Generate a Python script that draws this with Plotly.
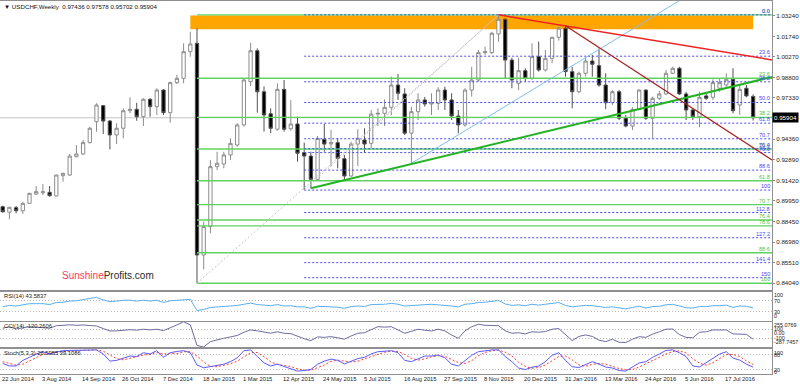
import pandas as pd
import plotly.graph_objects as go
from plotly.subplots import make_subplots

# ---------------- data (weekly USDCHF) ----------------
DATES = pd.date_range("2014-06-22", periods=113, freq="7D")

OPEN = [0.8953, 0.8913, 0.8946, 0.8924, 0.8977, 0.9044, 0.9053, 0.9056, 0.9030, 0.9175,
        0.9180, 0.9311, 0.9331, 0.9412, 0.9562, 0.9677, 0.9567, 0.9467, 0.9515, 0.9641,
        0.9651, 0.9598, 0.9723, 0.9670, 0.9789, 0.9627, 0.9842, 0.9873, 1.0064, 1.0124,
        0.8607, 0.8810, 0.9240, 0.9259, 0.9324, 0.9395, 0.9539, 0.9849, 1.0071, 0.9777,
        0.9619, 0.9508, 0.9794, 0.9512, 0.9546, 0.9340, 0.9316, 0.9149, 0.9436, 0.9403,
        0.9412, 0.9297, 0.9173, 0.9402, 0.9431, 0.9407, 0.9617, 0.9622, 0.9665, 0.9825,
        0.9761, 0.9480, 0.9634, 0.9718, 0.9689, 0.9694, 0.9789, 0.9718, 0.9603, 0.9539,
        0.9789, 0.9861, 1.0057, 1.0057, 1.0191, 1.0296, 1.0004, 0.9837, 0.9928, 0.9873,
        1.0028, 0.9933, 1.0016, 1.0167, 1.0232, 0.9921, 0.9777, 0.9909, 0.9997, 0.9964,
        0.9825, 0.9698, 0.9777, 0.9587, 0.9531, 0.9651, 0.9789, 0.9587, 0.9730, 0.9761,
        0.9909, 0.9945, 0.9761, 0.9646, 0.9598, 0.9747, 0.9737, 0.9802, 0.9825, 0.9866,
        0.9682, 0.9802, 0.97436]
HIGH = [0.8960, 0.8951, 0.8958, 0.8989, 0.9052, 0.9101, 0.9116, 0.9101, 0.9182, 0.9197,
        0.9331, 0.9395, 0.9431, 0.9526, 0.9694, 0.9682, 0.9574, 0.9551, 0.9658, 0.9737,
        0.9698, 0.9730, 0.9730, 0.9802, 0.9795, 0.9849, 0.9897, 1.0124, 1.0207, 1.0232,
        0.8846, 0.9288, 0.9347, 0.9347, 0.9443, 0.9551, 0.9873, 1.0128, 1.0088, 0.9815,
        0.9658, 0.9837, 0.9861, 0.9718, 0.9598, 0.9412, 0.9347, 0.9460, 0.9546, 0.9503,
        0.9443, 0.9324, 0.9419, 0.9508, 0.9515, 0.9646, 0.9658, 0.9723, 0.9885, 0.9904,
        0.9802, 0.9670, 0.9766, 0.9740, 0.9766, 0.9809, 0.9813, 0.9766, 0.9646, 0.9802,
        0.9956, 1.0076, 1.0100, 1.0207, 1.0328, 1.0303, 1.0021, 1.0021, 0.9945, 1.0124,
        1.0136, 1.0076, 1.0171, 1.0243, 1.0250, 0.9956, 0.9921, 1.0021, 1.0041, 1.0088,
        0.9909, 0.9789, 0.9789, 0.9610, 0.9665, 0.9794, 0.9794, 0.9742, 0.9784, 0.9933,
        0.9956, 0.9956, 0.9777, 0.9658, 0.9777, 0.9761, 0.9866, 0.9873, 0.9909, 0.9945,
        0.9825, 0.9825, 0.97578]
LOW = [0.8910, 0.8863, 0.8906, 0.8901, 0.8975, 0.9037, 0.9037, 0.9025, 0.9028, 0.9132,
       0.9175, 0.9307, 0.9323, 0.9407, 0.9491, 0.9474, 0.9364, 0.9402, 0.9443, 0.9622,
       0.9569, 0.9531, 0.9598, 0.9610, 0.9610, 0.9555, 0.9832, 0.9837, 1.0028, 0.8404,
       0.8504, 0.8762, 0.9216, 0.9228, 0.9288, 0.9383, 0.9526, 0.9818, 0.9627, 0.9491,
       0.9480, 0.9498, 0.9491, 0.9498, 0.9276, 0.9073, 0.9085, 0.9144, 0.9347, 0.9240,
       0.9228, 0.9144, 0.9168, 0.9245, 0.9340, 0.9372, 0.9531, 0.9531, 0.9610, 0.9718,
       0.9467, 0.9264, 0.9574, 0.9670, 0.9610, 0.9646, 0.9646, 0.9574, 0.9479, 0.9526,
       0.9742, 0.9849, 1.0041, 1.0047, 1.0135, 0.9873, 0.9802, 0.9789, 0.9849, 0.9861,
       0.9921, 0.9921, 0.9981, 1.0143, 0.9885, 0.9658, 0.9766, 0.9885, 0.9885, 0.9813,
       0.9652, 0.9682, 0.9574, 0.9522, 0.9503, 0.9646, 0.9574, 0.9443, 0.9718, 0.9754,
       0.9904, 0.9754, 0.9574, 0.9574, 0.9522, 0.9718, 0.9718, 0.9777, 0.9813, 0.9622,
       0.9610, 0.9737, 0.95702]
CLOSE = [0.8917, 0.8949, 0.8924, 0.8977, 0.9049, 0.9061, 0.9060, 0.9032, 0.9180, 0.9192,
         0.9316, 0.9331, 0.9412, 0.9515, 0.9682, 0.9567, 0.9467, 0.9515, 0.9641, 0.9651,
         0.9598, 0.9723, 0.9670, 0.9789, 0.9627, 0.9842, 0.9873, 1.0064, 1.0119, 0.8607,
         0.8810, 0.9240, 0.9264, 0.9324, 0.9407, 0.9539, 0.9861, 1.0071, 0.9777, 0.9610,
         0.9515, 0.9794, 0.9508, 0.9546, 0.9336, 0.9316, 0.9149, 0.9443, 0.9402, 0.9412,
         0.9300, 0.9173, 0.9402, 0.9443, 0.9402, 0.9617, 0.9622, 0.9665, 0.9825, 0.9766,
         0.9480, 0.9634, 0.9718, 0.9689, 0.9698, 0.9789, 0.9718, 0.9603, 0.9539, 0.9789,
         0.9861, 1.0057, 1.0064, 1.0196, 1.0296, 1.0004, 0.9861, 0.9928, 0.9873, 1.0028,
         0.9933, 1.0016, 1.0167, 1.0232, 0.9921, 0.9777, 0.9909, 0.9997, 0.9974, 0.9825,
         0.9698, 0.9777, 0.9587, 0.9531, 0.9651, 0.9789, 0.9587, 0.9730, 0.9761, 0.9909,
         0.9945, 0.9761, 0.9646, 0.9598, 0.9737, 0.9730, 0.9842, 0.9842, 0.9866, 0.9641,
         0.9794, 0.9747, 0.95904]

RSI = [47.6, 52, 50, 54, 58, 58, 58, 55, 62, 63,
       67, 68, 72, 76, 80, 71, 65, 67, 70, 70,
       67, 70, 67, 70, 62, 68, 69, 72, 73, 34,
       38, 45, 46, 48, 50, 52, 57, 60, 55, 52,
       51, 55, 50, 51, 47, 47, 42, 49, 48, 48,
       46, 42, 48, 50, 48, 55, 55, 56, 59, 56,
       50, 52, 53, 54, 56, 54, 53, 50, 47, 56,
       58, 62, 63, 66, 69, 57, 52, 54, 51, 56,
       53, 56, 60, 62, 52, 47, 50, 52, 51, 47,
       45, 47, 43, 40, 45, 49, 43, 48, 49, 54,
       56, 49, 44, 43, 48, 48, 51, 51, 53, 45,
       50, 49, 43.5837]
CCI = [116, 150, 100, 129, 150, 140, 130, 116, 170, 187,
       190, 180, 187, 175, 165, 110, 58, 60, 80, 85,
       75, 95, 80, 95, 65, 120, 187, 255.0769, 190, -255,
       -287.7457, -172, -130, -100, -70, -40, 30, 80, 60, 30,
       10, 40, 8, 0, -60, -110, -150, -70, -80, -65,
       -90, -120, -50, 8, 20, 90, 150, 140, 150, 80,
       8, 50, 95, 75, 58, 95, 60, -30, -100, 60,
       150, 202, 180, 175, 172, 60, 8, 20, -6, 40,
       30, 45, 95, 110, -30, -150, -60, -28, -60, -140,
       -172, -120, -186, -190, -120, -65, -80, -10, 40, 95,
       100, -20, -80, -90, 30, 40, 80, 85, 80, -6,
       -10, -15, -120.2606]
STOCH_K = [43, 33, 33, 55, 67, 80, 89, 80, 88, 93,
           94, 94, 95, 96, 96, 80, 52, 55, 65, 72,
           70, 85, 80, 93, 67, 85, 90, 93, 85, 37,
           26, 30, 35, 40, 50, 65, 93, 96, 70, 45,
           33, 40, 31, 22, 13, 15, 19, 40, 52, 60,
           55, 41, 52, 62, 67, 80, 89, 92, 93, 85,
           55, 50, 62, 72, 72, 76, 65, 40, 33, 55,
           75, 89, 93, 96, 96, 70, 50, 25, 19, 28,
           33, 50, 75, 85, 55, 30, 27, 40, 50, 40,
           29, 25, 15, 13, 30, 45, 50, 67, 80, 94,
           96, 85, 70, 33, 29, 45, 64, 80, 89, 64,
           56, 40, 28.5955]
STOCH_D = [50, 42, 36, 40, 52, 67, 79, 83, 86, 87,
           92, 94, 94, 95, 96, 91, 76, 62, 57, 64,
           69, 76, 78, 86, 80, 82, 81, 89, 89, 72,
           49, 31, 30, 35, 42, 52, 69, 85, 86, 70,
           49, 39, 35, 31, 22, 17, 16, 25, 37, 51,
           56, 52, 49, 52, 60, 70, 79, 87, 91, 90,
           78, 63, 56, 61, 69, 73, 71, 60, 46, 43,
           54, 73, 86, 93, 95, 87, 72, 48, 31, 24,
           27, 37, 53, 70, 72, 57, 37, 32, 39, 43,
           40, 31, 23, 18, 19, 29, 42, 54, 66, 80,
           90, 92, 84, 61, 44, 36, 46, 63, 78, 78,
           70, 53, 39.1086]

PRICE_TICKS = [1.03240, 1.01740, 1.00270, 0.98800, 0.97330, 0.94360, 0.92890,
               0.91420, 0.89950, 0.88450, 0.86980, 0.85510, 0.84040]
DATE_LABELS = ["22 Jun 2014", "3 Aug 2014", "14 Sep 2014", "26 Oct 2014", "7 Dec 2014",
               "18 Jan 2015", "1 Mar 2015", "12 Apr 2015", "24 May 2015", "5 Jul 2015",
               "16 Aug 2015", "27 Sep 2015", "8 Nov 2015", "20 Dec 2015", "31 Jan 2016",
               "13 Mar 2016", "24 Apr 2016", "5 Jun 2016", "17 Jul 2016"]

FIB_BLUE_LEVELS = [0.0, 23.6, 38.2, 50.0, 61.8, 70.7, 76.4, 78.6, 88.6, 100, 112.8, 127.2, 141.4, 150]
FIB_BLUE_TEXT = ["0.0", "23.6", "38.2", "50.0", "61.8", "70.7", "76.4", "78.6", "88.6", "100",
                 "112.8", "127.2", "141.4", "150"]
FIB_GREEN_LEVELS = [0.0, 23.6, 38.2, 50.0, 61.8, 70.7, 76.4, 78.6, 88.6, 100]
FIB_GREEN_TEXT = ["0.0", "23.6", "38.2", "50.0", "61.8", "70.7", "76.4", "78.6", "88.6", "100"]

# anchors of drawn objects (week index, price)
FIB_HIGH = (74, 1.0328)
FIB_BLUE_LOW = (45, 0.9072)
FIB_GREEN_LOW = (29, 0.8404)
ZONE = (28, 112, 1.0224, 1.0324)
GREEN_TL = [(46, 0.9085), (114.82, 0.9883)]
RED_TL = [(74, 1.0328), (114.82, 1.0005)]
DARKRED_TL = [(84, 1.0250), (114.82, 0.9288)]
BLUE_TL = [(61, 0.9264), (110, 1.0692)]

# ---------------- figure ----------------
FONT = "Liberation Sans, Arial, sans-serif"
T0 = DATES[0]
WEEK = pd.Timedelta(days=7)


def wk(i):
    return T0 + i * WEEK


X_START = wk(-0.403)
X_END = wk(114.82)
H = 374.0
TOP = 1.0


def py(pix):
    return (TOP + H - pix) / H


fig = make_subplots(rows=4, cols=1, shared_xaxes=True, vertical_spacing=0)

# fib levels (green solid from the Jan 2015 low, blue dotted from the May 2015 low)
for lvl in FIB_GREEN_LEVELS:
    p = FIB_HIGH[1] - (FIB_HIGH[1] - FIB_GREEN_LOW[1]) * lvl / 100
    fig.add_trace(go.Scatter(x=[wk(FIB_GREEN_LOW[0]), X_END], y=[p, p], mode="lines",
                             line=dict(color="#5fd35f", width=1.4), hoverinfo="skip"), row=1, col=1)
for lvl in FIB_BLUE_LEVELS:
    p = FIB_HIGH[1] - (FIB_HIGH[1] - FIB_BLUE_LOW[1]) * lvl / 100
    fig.add_trace(go.Scatter(x=[wk(FIB_BLUE_LOW[0]), X_END], y=[p, p], mode="lines",
                             line=dict(color="#4848ff", width=1, dash="2px,2px"), hoverinfo="skip"),
                  row=1, col=1)
# fib diagonals
for lo in (FIB_GREEN_LOW, FIB_BLUE_LOW):
    fig.add_trace(go.Scatter(x=[wk(lo[0]), wk(FIB_HIGH[0])], y=[lo[1], FIB_HIGH[1]], mode="lines",
                             line=dict(color="#c4c4c4", width=1, dash="2px,2px"), hoverinfo="skip"),
                  row=1, col=1)

fig.add_trace(go.Candlestick(
    x=DATES, open=OPEN, high=HIGH, low=LOW, close=CLOSE,
    increasing=dict(fillcolor="#ffffff", line=dict(color="#8c8c8c", width=1)),
    decreasing=dict(fillcolor="#000000", line=dict(color="#505050", width=1)),
    whiskerwidth=0, hoverinfo="skip"), row=1, col=1)

for pts, col, w in ((BLUE_TL, "#80bff0", 1), (GREEN_TL, "#22b422", 2),
                    (RED_TL, "#ee2222", 1.5), (DARKRED_TL, "#aa2020", 1.2)):
    fig.add_trace(go.Scatter(x=[wk(pts[0][0]), wk(pts[1][0])], y=[pts[0][1], pts[1][1]], mode="lines",
                             line=dict(color=col, width=w), hoverinfo="skip"), row=1, col=1)

# indicators
fig.add_trace(go.Scatter(x=DATES, y=RSI, mode="lines", line=dict(color="#5aaef0", width=1),
                         hoverinfo="skip"), row=2, col=1)
fig.add_trace(go.Scatter(x=DATES, y=CCI, mode="lines", line=dict(color="#6c6ca0", width=1),
                         hoverinfo="skip"), row=3, col=1)
fig.add_trace(go.Scatter(x=DATES, y=STOCH_D, mode="lines", line=dict(color="#ff3b3b", width=1, dash="2px,2px"),
                         hoverinfo="skip"), row=4, col=1)
fig.add_trace(go.Scatter(x=DATES, y=STOCH_K, mode="lines", line=dict(color="#5a5aff", width=1),
                         hoverinfo="skip"), row=4, col=1)

# shapes: resistance zone and current price line
fig.add_shape(type="rect", xref="x", yref="y", x0=wk(ZONE[0]), x1=wk(ZONE[1]), y0=ZONE[2], y1=ZONE[3],
              fillcolor="#ffa500", line=dict(width=0), layer="below")
fig.add_shape(type="line", xref="paper", yref="y", x0=0, x1=1, y0=CLOSE[-1], y1=CLOSE[-1],
              line=dict(color="#c4c4c4", width=1), layer="below")

AX = "#8f8f8f"
GRID_DASH = "1px,2px"
fig.update_xaxes(range=[X_START, X_END], showgrid=False, zeroline=False, showticklabels=False,
                 showline=True, mirror=True, linecolor=AX, linewidth=1, ticks="",
                 rangeslider=dict(visible=False))
fig.update_layout(
    yaxis=dict(domain=[py(290), 1.0], range=[0.83560, 1.04272], side="right",
               tickvals=PRICE_TICKS, ticktext=[f"{v:.5f}" for v in PRICE_TICKS],
               tickfont=dict(size=6.2, color="#222", family=FONT), ticks="outside", ticklen=2,
               tickcolor=AX, showgrid=False, zeroline=False, showline=True, mirror=True,
               linecolor=AX, automargin=False),
    yaxis2=dict(domain=[py(320.5), py(291.5)], range=[0, 100], side="right", tickvals=[30, 70],
                showticklabels=False, ticks="", showgrid=True, gridcolor="#b8b8b8", griddash=GRID_DASH,
                zeroline=False, showline=True, mirror=True, linecolor=AX, automargin=False),
    yaxis3=dict(domain=[py(347), py(321.8)], range=[-287.7457, 255.0769], side="right",
                tickvals=[-100, 100], showticklabels=False, ticks="", showgrid=True,
                gridcolor="#b8b8b8", griddash=GRID_DASH, zeroline=False, showline=True, mirror=True,
                linecolor=AX, automargin=False),
    yaxis4=dict(domain=[py(374.4), py(348.9)], range=[0, 100], side="right", tickvals=[20, 80],
                showticklabels=False, ticks="", showgrid=True, gridcolor="#b8b8b8", griddash=GRID_DASH,
                zeroline=False, showline=True, mirror=True, linecolor=AX, automargin=False),
)

ann = []
# fib labels
for lvl, txt in zip(FIB_GREEN_LEVELS, FIB_GREEN_TEXT):
    p = FIB_HIGH[1] - (FIB_HIGH[1] - FIB_GREEN_LOW[1]) * lvl / 100
    ann.append(dict(xref="paper", yref="y", x=0.9985, y=p, xanchor="right", yanchor="bottom",
                    text=txt, showarrow=False, borderpad=0,
                    font=dict(size=5.6, color="#4cc44c", family=FONT)))
for lvl, txt in zip(FIB_BLUE_LEVELS, FIB_BLUE_TEXT):
    p = FIB_HIGH[1] - (FIB_HIGH[1] - FIB_BLUE_LOW[1]) * lvl / 100
    ann.append(dict(xref="paper", yref="y", x=0.9985, y=p, xanchor="right", yanchor="bottom",
                    text=txt, showarrow=False, borderpad=0,
                    font=dict(size=5.6, color="#4646ff", family=FONT)))
# current price box
ann.append(dict(xref="paper", yref="y", x=1.0, y=CLOSE[-1], xanchor="left", yanchor="middle",
                text=f"{CLOSE[-1]:.5f}", showarrow=False, bgcolor="#000000", borderpad=1,
                font=dict(size=6.2, color="#ffffff", family=FONT)))
# header
ann.append(dict(xref="paper", yref="paper", x=0.002, y=py(6), xanchor="left", yanchor="middle",
                text=f"\u25bc USDCHF,Weekly  {OPEN[-1]:.5f} {HIGH[-1]:.5f} {LOW[-1]:.5f} {CLOSE[-1]:.5f}",
                showarrow=False, font=dict(size=6.2, color="#111", family=FONT)))
# logo
ann.append(dict(xref="paper", yref="paper", x=60 / 772, y=py(275), xanchor="left", yanchor="middle",
                text="<span style='color:#ff3a5c'>Sunshine</span><span style='color:#2a2a2a'>Profits.com</span>",
                showarrow=False, font=dict(size=10, family=FONT)))
# indicator captions
for txt, pix in ((f"RSI(14) {RSI[-1]:.4f}", 295.5),
                 (f"CCI(14) {CCI[-1]:.4f}", 325.5),
                 (f"Stoch(5,3,3) {STOCH_K[-1]:.4f} {STOCH_D[-1]:.4f}", 352.5)):
    ann.append(dict(xref="paper", yref="paper", x=0.003, y=py(pix), xanchor="left", yanchor="middle",
                    text=txt, showarrow=False, font=dict(size=5.8, color="#222", family=FONT)))
# indicator scale labels
for txt, pix in (("100", 295.2), ("70", 301), ("30", 312.3), ("0", 316.3),
                 ("255.0769", 325.3), ("100", 329.2), ("0.00", 333.3), ("-100", 337.7), ("-287.7457", 341.7),
                 ("100", 352.5), ("80", 355), ("20", 370), ("0", 372)):
    ann.append(dict(xref="paper", yref="paper", x=1.0, y=py(pix), xanchor="left", yanchor="middle",
                    xshift=1, text=txt, showarrow=False, borderpad=0,
                    font=dict(size=5.4, color="#222", family=FONT)))
# date labels
for lab in DATE_LABELS:
    ann.append(dict(xref="x4", yref="paper", x=pd.Timestamp(lab), y=0, xanchor="left", yanchor="top",
                    xshift=-3, yshift=1, text=lab, showarrow=False,
                    font=dict(size=5.8, color="#222", family=FONT)))

fig.update_layout(annotations=ann, width=800, height=386, showlegend=False,
                  margin=dict(l=0, r=28, t=1, b=11), paper_bgcolor="#ffffff", plot_bgcolor="#ffffff",
                  font=dict(family=FONT))

fig.write_html("out.html", config={"displayModeBar": False, "staticPlot": True},
               post_script="document.body.style.margin='0';document.body.style.overflow='hidden';")
